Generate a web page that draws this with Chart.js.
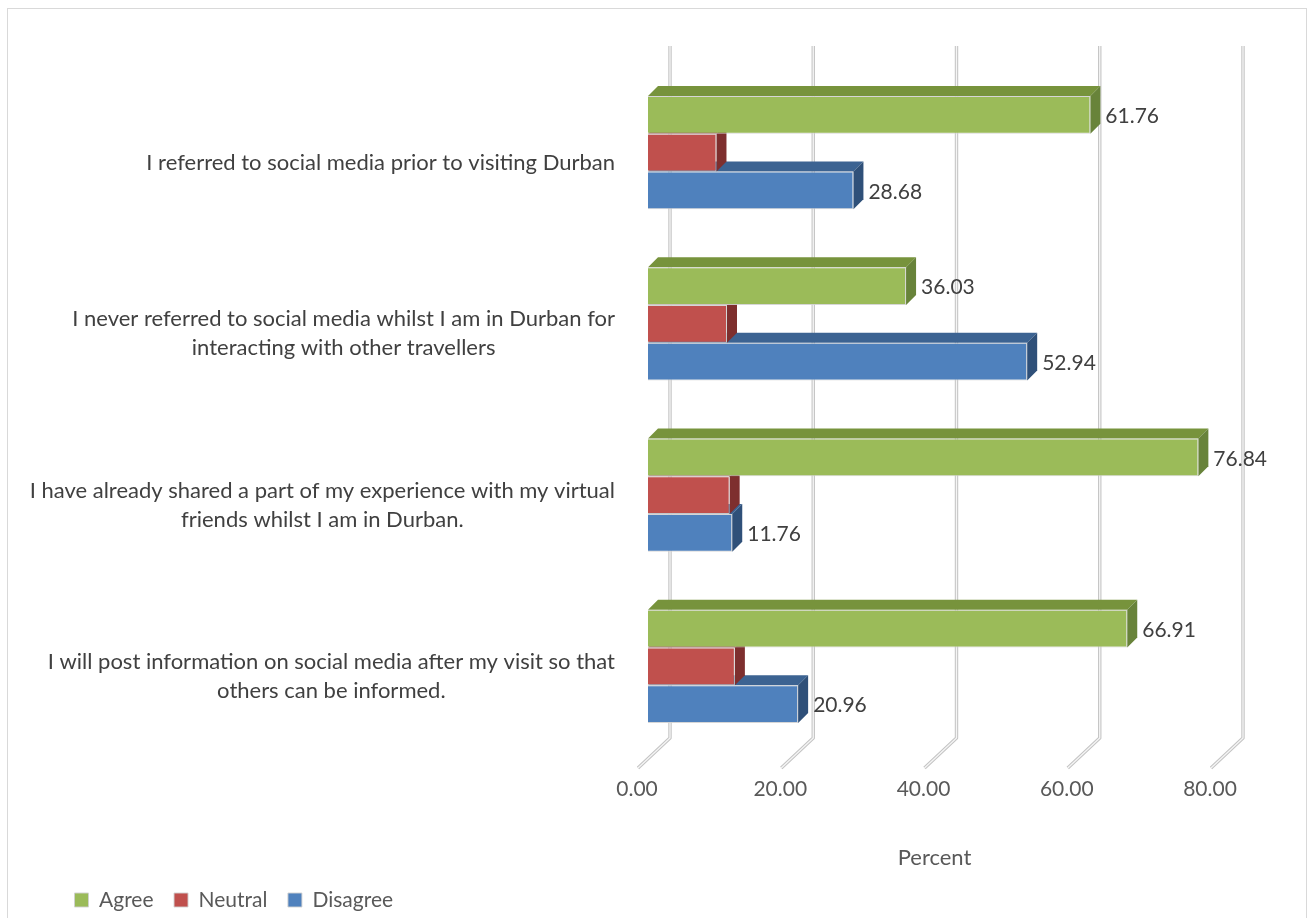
<!DOCTYPE html>
<html>
<head>
<meta charset="utf-8">
<script src="https://cdn.jsdelivr.net/npm/chart.js@4.4.1/dist/chart.umd.min.js"></script>
<style>
  html, body { margin: 0; padding: 0; background: #ffffff; }
  canvas { display: block; }
</style>
</head>
<body>
<canvas id="chart" width="1313" height="918"></canvas>
<script>
// Survey statements (wrapped lines) and response shares in percent
const categories = [
  ["I referred to social media prior to visiting Durban"],
  ["I never referred to social media whilst I am in Durban for", "interacting with other travellers"],
  ["I have already shared a part of my experience with my virtual", "friends whilst I am in Durban."],
  ["I will post information on social media after my visit so that", "others can be informed."]
];
const agree    = [61.76, 36.03, 76.84, 66.91];
const neutral  = [9.56, 11.03, 11.40, 12.13];
const disagree = [28.68, 52.94, 11.76, 20.96];
const percentTicks = [0, 20, 40, 60, 80];

const FONT = 'Lato, "Open Sans", sans-serif';
const TEXT_DARK = '#404040';
const TEXT_AXIS = '#595959';
const DEPTH = 10;          // extrusion depth of the bars
const WALL_SHIFT = 22;     // back wall gridlines sit behind the bar fronts
const LABEL_SHIFT = 10;    // category labels sit slightly below bar-group centres

// Back-wall gridlines with their floor return, plus the top/side faces of each bar
const depthPlugin = {
  id: 'depthFaces',
  beforeDatasetsDraw(chart) {
    const { ctx, chartArea, scales: { x } } = chart;
    const top = chartArea.top - 21;
    const back = chartArea.bottom - 14;
    const front = chartArea.bottom + 16;
    ctx.save();
    ctx.lineJoin = 'round';
    x.ticks.forEach(t => {
      const xf = x.getPixelForValue(t.value);
      const xb = xf + WALL_SHIFT;
      const trace = () => {
        ctx.beginPath();
        ctx.moveTo(xb, top);
        ctx.lineTo(xb, back);
        ctx.lineTo(xf - 10, front);
      };
      trace(); ctx.strokeStyle = '#c4c4c4'; ctx.lineWidth = 3.4; ctx.stroke();
      trace(); ctx.strokeStyle = '#f5f5f5'; ctx.lineWidth = 1.3; ctx.stroke();
    });
    // lower series first so the bar above hides their top faces
    for (let d = chart.data.datasets.length - 1; d >= 0; d--) {
      const ds = chart.data.datasets[d];
      chart.getDatasetMeta(d).data.forEach(bar => {
        const { x: xe, y, base, height } = bar.getProps(['x', 'y', 'base', 'height'], true);
        const t = y - height / 2, b = y + height / 2;
        ctx.fillStyle = ds.topColor;
        ctx.beginPath();
        ctx.moveTo(base, t);
        ctx.lineTo(base + DEPTH, t - DEPTH);
        ctx.lineTo(xe + DEPTH, t - DEPTH);
        ctx.lineTo(xe, t);
        ctx.closePath();
        ctx.fill();
        ctx.fillStyle = ds.sideColor;
        ctx.beginPath();
        ctx.moveTo(xe, t);
        ctx.lineTo(xe + DEPTH, t - DEPTH);
        ctx.lineTo(xe + DEPTH, b - DEPTH);
        ctx.lineTo(xe, b);
        ctx.closePath();
        ctx.fill();
      });
    }
    ctx.restore();
  },
  afterDatasetsDraw(chart) {
    const { ctx } = chart;
    ctx.save();
    ctx.font = `21px ${FONT}`;
    ctx.fillStyle = TEXT_DARK;
    ctx.textAlign = 'left';
    ctx.textBaseline = 'middle';
    chart.data.datasets.forEach((ds, d) => {
      if (!ds.showValue) return;
      chart.getDatasetMeta(d).data.forEach((bar, i) => {
        const { x: xe, y } = bar.getProps(['x', 'y'], true);
        ctx.fillText(ds.data[i].toFixed(2), xe + DEPTH + 5, y + 1.5);
      });
    });
    ctx.restore();
  },
  afterDraw(chart) {
    const { ctx, chartArea, scales: { y } } = chart;
    ctx.save();
    // statement labels: each block right-aligned to the plot, lines centred within it
    ctx.font = `22px ${FONT}`;
    ctx.fillStyle = TEXT_DARK;
    ctx.textAlign = 'center';
    ctx.textBaseline = 'middle';
    const lineH = 29;
    chart.data.labels.forEach((lines, i) => {
      const w = Math.max(...lines.map(l => ctx.measureText(l).width));
      const cx = chartArea.left - 33 - w / 2;
      const cy = y.getPixelForValue(i) + LABEL_SHIFT;
      lines.forEach((l, k) => ctx.fillText(l, cx, cy + (k - (lines.length - 1) / 2) * lineH));
    });
    // chart frame
    ctx.strokeStyle = '#d9d9d9';
    ctx.lineWidth = 1;
    ctx.strokeRect(7.5, 8.5, 1299, 930);
    ctx.restore();
  }
};

new Chart(document.getElementById('chart'), {
  type: 'bar',
  data: {
    labels: categories,
    datasets: [
      { label: 'Agree', data: agree, backgroundColor: '#9bbb59', topColor: '#77933c', sideColor: '#68833a', showValue: true },
      { label: 'Neutral', data: neutral, backgroundColor: '#c0504d', topColor: '#943c3a', sideColor: '#7e2f2e', showValue: false },
      { label: 'Disagree', data: disagree, backgroundColor: '#4f81bd', topColor: '#3c6392', sideColor: '#2f5079', showValue: true }
    ]
  },
  options: {
    indexAxis: 'y',
    responsive: false,
    animation: false,
    datasets: {
      bar: {
        categoryPercentage: 0.66,
        barPercentage: 1,
        borderWidth: 1,
        borderColor: 'rgba(210,210,210,0.9)'
      }
    },
    layout: { padding: { left: 54, top: 67, right: 92, bottom: -2.5 } },
    scales: {
      x: {
        min: 0,
        max: 80,
        afterBuildTicks(scale) { scale.ticks = percentTicks.map(v => ({ value: v })); },
        afterFit(scale) { scale.height = 117; },
        grid: { display: false, drawTicks: false },
        border: { display: false },
        ticks: {
          labelOffset: -11,
          padding: 25,
          color: TEXT_AXIS,
          font: { family: FONT, size: 21 },
          callback: v => Number(v).toFixed(2)
        },
        title: {
          display: true,
          text: 'Percent',
          color: TEXT_AXIS,
          font: { family: FONT, size: 22, lineHeight: 1 },
          padding: { top: 0, bottom: 0 }
        }
      },
      y: {
        grid: { display: false, drawTicks: false },
        border: { display: false },
        ticks: { display: false },
        afterFit(scale) { scale.width = 594; }
      }
    },
    plugins: {
      legend: {
        position: 'bottom',
        align: 'start',
        labels: {
          boxWidth: 14,
          boxHeight: 14,
          padding: 20.5,
          color: TEXT_AXIS,
          font: { family: FONT, size: 21 }
        }
      },
      tooltip: { enabled: false }
    }
  },
  plugins: [depthPlugin]
});
</script>
</body>
</html>
